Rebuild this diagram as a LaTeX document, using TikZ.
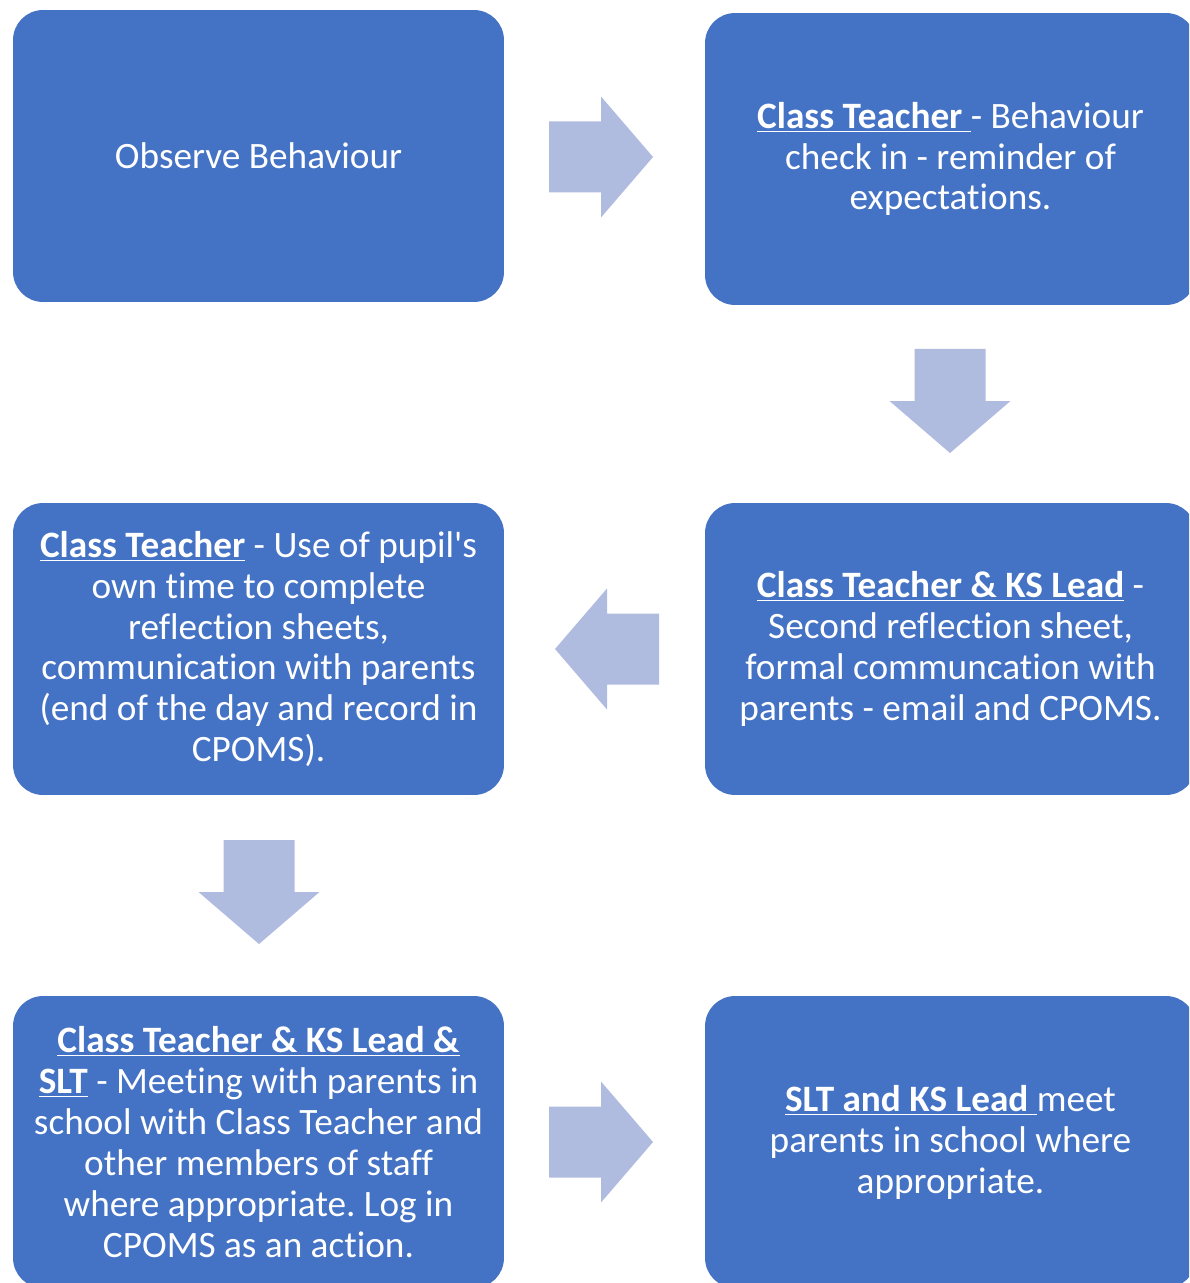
\documentclass[tikz,border=0pt]{standalone}
\usepackage{fontspec}
\newfontfamily\calfont{Carlito}[Ligatures={NoCommon}]
\definecolor{boxblue}{HTML}{4472C4}
\definecolor{arrowblue}{HTML}{B0BCDF}
\newcommand{\ulbf}[1]{\underline{\textbf{#1}}}
\frenchspacing
\begin{document}
\begin{tikzpicture}%
[x=0.02cm,y=0.02cm,
stage/.style={fill=boxblue, draw=none, rounded corners=0.6cm, text=white,
  minimum width=9.82cm, minimum height=5.84cm, align=center, inner sep=0pt,
  font=\calfont\fontsize{21.2}{23.3}\selectfont},
barrow/.pic={\fill[arrowblue] (-52,-35.5) -- (0,-35.5) -- (0,-60.5) -- (52,0)
  -- (0,60.5) -- (0,35.5) -- (-52,35.5) -- cycle;}]
\useasboundingbox (0,0) rectangle (1189,-1283);
\clip (0,0) rectangle (1189,-1283);
% stages
\node[stage] (observe) at (258.5,-156) {Observe Behaviour};
\node[stage] (checkin) at (950.5,-159) {\ulbf{Class Teacher\ }- Behaviour\\
  check in - reminder of\\ expectations.};
\node[stage] (second) at (950.5,-649) {\ulbf{Class Teacher \& KS Lead} -\\
  Second reflection sheet,\\ formal communcation with\\ parents - email and CPOMS.};
\node[stage] (owntime) at (258.5,-649) {\ulbf{Class Teacher} - Use of pupil's\\
  own time to complete\\ reflection sheets,\\ communication with parents\\
  (end of the day and record in\\ CPOMS).};
\node[stage] (meeting) at (258.5,-1142) {\ulbf{Class Teacher \& KS Lead \&}\\
  \ulbf{SLT} - Meeting with parents in\\ school with Class Teacher and\\
  other members of staff\\ where appropriate. Log in\\ CPOMS as an action.};
\node[stage] (slt) at (950.5,-1142) {\ulbf{SLT and KS Lead\ }meet\\
  parents in school where\\ appropriate.};
% arrows between stages
\pic at (601,-157) {barrow};
\pic[rotate=-90] at (950,-401) {barrow};
\pic[rotate=180] at (607,-649) {barrow};
\pic[rotate=-90] at (259,-892) {barrow};
\pic at (601,-1142) {barrow};
\end{tikzpicture}
\end{document}
